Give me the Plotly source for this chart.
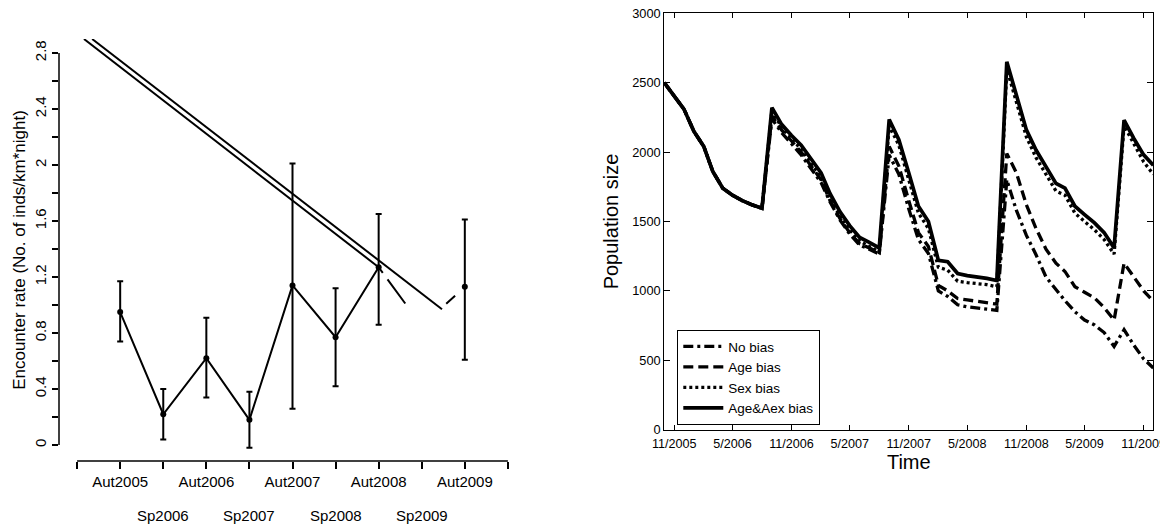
import plotly.graph_objects as go
import pandas as pd

FONT = "Liberation Sans, Arial, sans-serif"

# ---------------- Left panel data ----------------
seasons = ["Aut2005", "Sp2006", "Aut2006", "Sp2007", "Aut2007",
           "Sp2008", "Aut2008", "Sp2009", "Aut2009"]
rate = [0.95, 0.22, 0.62, 0.18, 1.14, 0.77, 1.27, None, 1.13]
rate_upper = [1.17, 0.40, 0.91, 0.38, 2.01, 1.12, 1.65, None, 1.61]
rate_lower = [0.74, 0.04, 0.34, -0.02, 0.26, 0.42, 0.86, None, 0.61]
sp2009_estimate = 0.85          # value implied by the dashed link
trend_upper_x = [0.35, 8.47]
trend_upper_y = [2.90, 0.97]
trend_lower_x = [0.16, 7.0]
trend_lower_y = [2.90, 1.27]
rate_ticks = [0, 0.2, 0.4, 0.6, 0.8, 1.0, 1.2, 1.4, 1.6, 1.8, 2.0, 2.2, 2.4, 2.6, 2.8]
rate_ticklabels = ["0", "", "0.4", "", "0.8", "", "1.2", "", "1.6", "", "2", "", "2.4", "", "2.8"]

# ---------------- Right panel data ----------------
start_month = "2005-10-01"
n_months = 51
no_bias = [2500, 2400, 2310, 2150, 2040, 1860, 1740, 1690, 1650, 1620, 1595,
           2240, 2140, 2060, 1980, 1880, 1780, 1640, 1510, 1410, 1330, 1300, 1265,
           1980, 1840, 1590, 1370, 1270, 1000, 960, 900, 885, 875, 868, 860,
           1800, 1580, 1400, 1260, 1100, 1010, 930, 850, 790, 755, 700, 600,
           720, 610, 510, 445]
age_bias = [2500, 2400, 2310, 2150, 2040, 1860, 1740, 1690, 1650, 1620, 1595,
            2260, 2160, 2080, 2000, 1900, 1800, 1650, 1520, 1420, 1340, 1310, 1275,
            2040, 1900, 1650, 1420, 1320, 1040, 1000, 945, 935, 925, 918, 905,
            1990, 1850, 1620, 1450, 1300, 1200, 1140, 1030, 990, 950, 880, 790,
            1200, 1100, 1000, 925]
sex_bias = [2500, 2400, 2310, 2150, 2040, 1860, 1740, 1690, 1650, 1620, 1595,
            2300, 2180, 2100, 2020, 1920, 1820, 1670, 1540, 1440, 1360, 1320, 1280,
            2190, 2050, 1800, 1560, 1450, 1170, 1150, 1070, 1060, 1055, 1045, 1030,
            2600, 2360, 2110, 1960, 1840, 1720, 1690, 1560, 1500, 1440, 1370, 1265,
            2190, 2060, 1930, 1840]
age_sex_bias = [2500, 2400, 2310, 2150, 2040, 1860, 1740, 1690, 1650, 1620, 1595,
                2320, 2200, 2120, 2050, 1950, 1850, 1700, 1570, 1470, 1385, 1350, 1310,
                2235, 2090, 1850, 1610, 1500, 1220, 1210, 1125, 1110, 1103, 1090, 1075,
                2650, 2410, 2160, 2015, 1890, 1775, 1740, 1610, 1550, 1490, 1420, 1310,
                2230, 2100, 1980, 1905]
series_names = ["No bias", "Age bias", "Sex bias", "Age&Aex bias"]
time_tick_dates = ["2005-11-01", "2006-05-01", "2006-11-01", "2007-05-01", "2007-11-01",
                   "2008-05-01", "2008-11-01", "2009-05-01", "2009-11-01"]
time_tick_labels = ["11/2005", "5/2006", "11/2006", "5/2007", "11/2007",
                    "5/2008", "11/2008", "5/2009", "11/2009"]
pop_ticks = [0, 500, 1000, 1500, 2000, 2500, 3000]

# The page body has an 8px margin, which shifts the figure right and down by 8px;
# size the figure so it ends exactly at the window's right and bottom edges.
BODY = 8
W, H = 1168 - BODY, 528 - BODY


def fx(px):
    return (px - BODY) / W


def fy(py):
    return (H - (py - BODY)) / H


fig = go.Figure()

# ---------------- Left panel ----------------
pos = list(range(1, len(seasons) + 1))
err_plus = [None if r is None else u - r for r, u in zip(rate, rate_upper)]
err_minus = [None if r is None else r - l for r, l in zip(rate, rate_lower)]

fig.add_trace(go.Scatter(x=trend_upper_x, y=trend_upper_y, mode="lines",
                         line=dict(color="black", width=2), showlegend=False,
                         xaxis="x", yaxis="y"))
fig.add_trace(go.Scatter(x=trend_lower_x, y=trend_lower_y, mode="lines",
                         line=dict(color="black", width=2), showlegend=False,
                         xaxis="x", yaxis="y"))
i7, i8, i9 = seasons.index("Aut2008"), seasons.index("Sp2009"), seasons.index("Aut2009")
fig.add_trace(go.Scatter(x=[pos[i7], pos[i8], pos[i9]],
                         y=[rate[i7], sp2009_estimate, rate[i9]], mode="lines",
                         line=dict(color="black", width=2,
                                   dash="7px,8px,30px,61px,12px,20px"),
                         showlegend=False, xaxis="x", yaxis="y"))
fig.add_trace(go.Scatter(x=pos, y=rate, mode="lines+markers",
                         line=dict(color="black", width=2),
                         marker=dict(color="black", size=6),
                         error_y=dict(type="data", array=err_plus, arrayminus=err_minus,
                                      color="black", thickness=2, width=3),
                         connectgaps=False, showlegend=False, xaxis="x", yaxis="y"))

x_ticktext = [""] + [s if s.startswith("Aut") else "" for s in seasons] + [""]

annotations = []
for p, s in zip(pos, seasons):
    if s.startswith("Sp"):
        annotations.append(dict(x=p, y=fy(515), xref="x", yref="paper",
                                text=s, showarrow=False, yanchor="middle",
                                font=dict(size=15, family=FONT, color="black")))

shapes = [
    dict(type="line", xref="x domain", x0=0, x1=0, yref="y", y0=rate_ticks[0],
         y1=rate_ticks[-1], line=dict(color="black", width=1.5)),
    dict(type="line", xref="x", x0=0, x1=len(seasons) + 1, yref="y domain", y0=0, y1=0,
         line=dict(color="black", width=1.5)),
]

# ---------------- Right panel ----------------
months = pd.date_range(start_month, periods=n_months, freq="MS")
styles = [dict(dash="10px,4px,3px,4px", width=3.3),
          dict(dash="10px,5px", width=3.3),
          dict(dash="3px,3px", width=3.3),
          dict(dash="solid", width=3.7)]
for name, vals, st in zip(series_names, [no_bias, age_bias, sex_bias, age_sex_bias], styles):
    fig.add_trace(go.Scatter(x=months, y=vals, mode="lines", name=name,
                             line=dict(color="black", width=st["width"], dash=st["dash"]),
                             xaxis="x2", yaxis="y2"))

fig.update_layout(
    width=W, height=H,
    margin=dict(l=0, r=0, t=0, b=0),
    paper_bgcolor="white", plot_bgcolor="white",
    font=dict(family=FONT, color="black"),
    xaxis=dict(domain=[fx(59), fx(526)], range=[-0.42, 10.42],
               tickvals=list(range(0, len(seasons) + 2)), ticktext=x_ticktext,
               ticks="outside", ticklen=7, tickwidth=1.5, tickcolor="black",
               showline=False, showgrid=False, zeroline=False, anchor="y",
               tickfont=dict(size=15), automargin=False, ticklabeloverflow="allow"),
    yaxis=dict(domain=[fy(461), fy(39)], range=[-0.114, 2.9],
               tickvals=rate_ticks, ticktext=rate_ticklabels, tickangle=-90,
               ticks="outside", ticklen=6, tickwidth=1.5, tickcolor="black",
               showline=False, showgrid=False, zeroline=False, anchor="x",
               tickfont=dict(size=15), automargin=False, ticklabeloverflow="allow",
               title=dict(text="Encounter rate (No. of inds/km*night)",
                          font=dict(size=17), standoff=2)),
    xaxis2=dict(domain=[fx(664.3), fx(1153.3)], type="date",
                range=[months[0], months[-1]], tickvals=time_tick_dates,
                ticktext=time_tick_labels, ticks="inside", ticklen=5, tickcolor="black",
                showline=True, linecolor="black", linewidth=1.2, mirror="ticks",
                showgrid=False, zeroline=False, anchor="y2", automargin=False,
                tickfont=dict(size=12.6), ticklabelstandoff=2, ticklabeloverflow="allow",
                title=dict(text="Time", font=dict(size=20), standoff=2)),
    yaxis2=dict(domain=[fy(429.7), fy(13.3)], range=[0, 3000], tickvals=pop_ticks,
                ticks="inside", ticklen=6, tickcolor="black",
                showline=True, linecolor="black", linewidth=1.2, mirror="ticks",
                showgrid=False, zeroline=False, anchor="x2", automargin=False,
                tickfont=dict(size=12.8), ticklabeloverflow="allow",
                title=dict(text="Population size", font=dict(size=20), standoff=8)),
    legend=dict(x=fx(677.3), y=fy(330), xanchor="left", yanchor="top",
                bordercolor="black", borderwidth=1, bgcolor="white",
                font=dict(size=13.5), tracegroupgap=0, itemwidth=40),
    shapes=shapes,
    annotations=annotations,
)

fig.write_html("out.html")
